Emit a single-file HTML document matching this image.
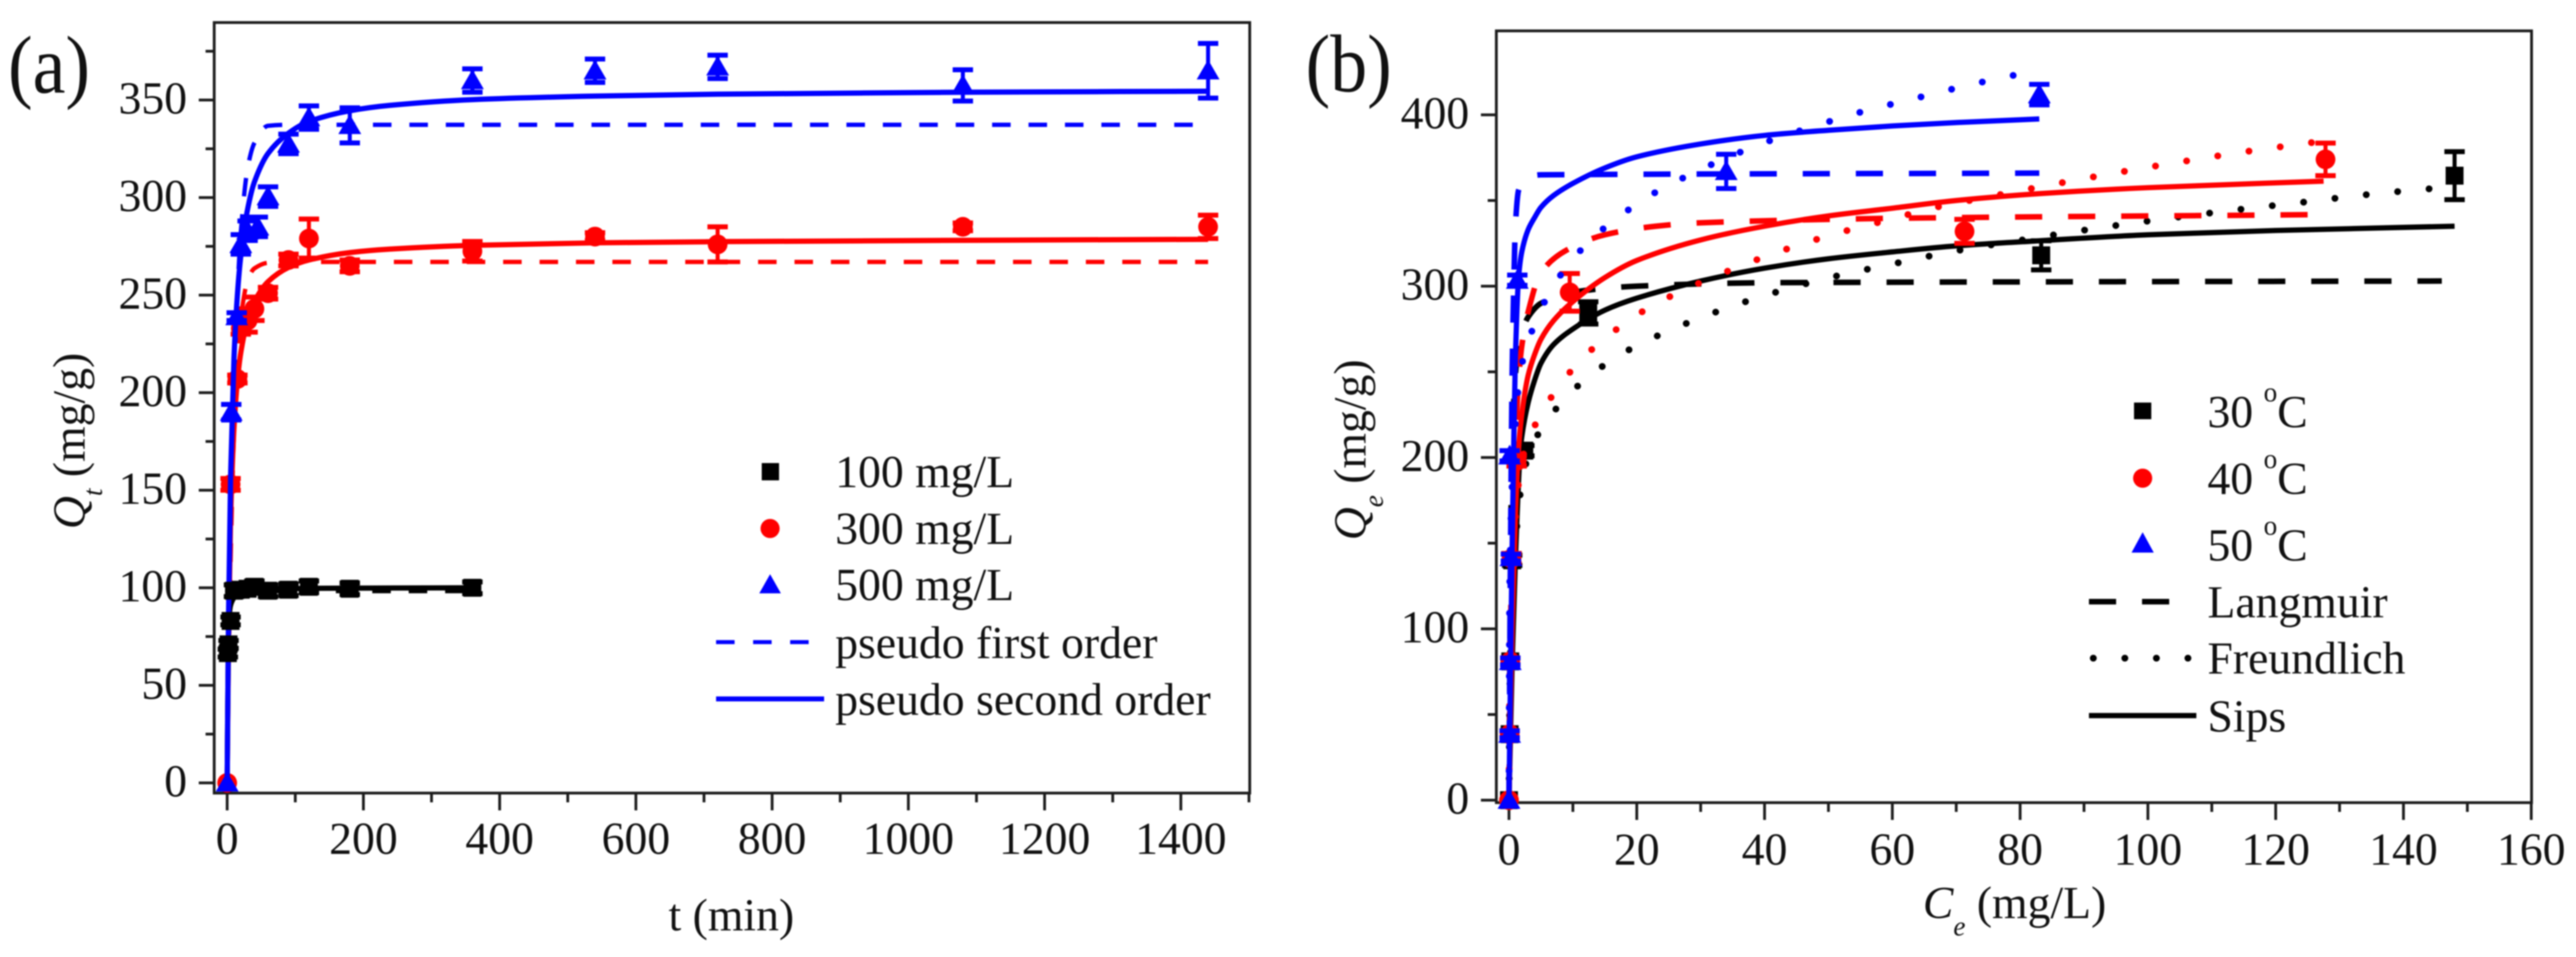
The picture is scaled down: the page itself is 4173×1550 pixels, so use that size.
<!DOCTYPE html>
<html lang="en">
<head>
<meta charset="utf-8">
<title>Adsorption kinetics and isotherms</title>
<style>
html,body{margin:0;padding:0;background:#fff;width:4173px;height:1550px;overflow:hidden}
svg{display:block;filter:blur(1px)}
text{font-family:"Liberation Serif",serif;font-size:74px;fill:#111}
.i{font-style:italic}
</style>
</head>
<body>
<svg id="figure" xmlns="http://www.w3.org/2000/svg" width="4173" height="1550" viewBox="0 0 4173 1550">
  <rect x="0" y="0" width="4173" height="1550" fill="#fff"/>
  <g id="panelA"></g>
  <g id="panelB"></g>

  <text transform="translate(13,150) scale(0.9,1)" style="font-size:133px">(a)</text>
  <text transform="translate(2115,148) scale(0.9,1)" style="font-size:133px">(b)</text>

  <text transform="translate(137,857) rotate(-90)"><tspan class="i">Q</tspan><tspan class="i" style="font-size:44px" dy="28">t</tspan><tspan dy="-28"> (mg/g)</tspan></text>
  <text x="1083" y="1507">t (min)</text>

  <text transform="translate(2212,875) rotate(-90)"><tspan class="i">Q</tspan><tspan class="i" style="font-size:44px" dy="28">e</tspan><tspan dy="-28"> (mg/g)</tspan></text>
  <text x="3115" y="1487"><tspan class="i">C</tspan><tspan class="i" style="font-size:44px" dy="28">e</tspan><tspan dy="-28"> (mg/L)</tspan></text>

  <g>
    <rect x="1234" y="750" width="28" height="28" fill="#000"/>
    <text x="1353" y="789">100 mg/L</text>
    <circle cx="1247.5" cy="856" r="15.5" fill="#f00"/>
    <text x="1353" y="881">300 mg/L</text>
    <polygon points="1247.5,930 1265,961 1230,961" fill="#00f"/>
    <text x="1353" y="972">500 mg/L</text>
    <line x1="1160" y1="1040" x2="1335" y2="1040" stroke="#00f" stroke-width="6.5" stroke-dasharray="30 30"/>
    <text x="1353" y="1066">pseudo first order</text>
    <line x1="1160" y1="1132" x2="1335" y2="1132" stroke="#00f" stroke-width="8"/>
    <text x="1353" y="1158">pseudo second order</text>
  </g>

  <g>
    <rect x="3457" y="652" width="28" height="27" fill="#000"/>
    <text x="3576" y="692">30<tspan dx="17" dy="-42" style="font-size:44px">o</tspan><tspan dy="42">C</tspan></text>
    <circle cx="3471" cy="774.5" r="15.5" fill="#f00"/>
    <text x="3576" y="800">40<tspan dx="17" dy="-42" style="font-size:44px">o</tspan><tspan dy="42">C</tspan></text>
    <polygon points="3471,862 3489,895 3453,895" fill="#00f"/>
    <text x="3576" y="908">50<tspan dx="17" dy="-42" style="font-size:44px">o</tspan><tspan dy="42">C</tspan></text>
    <line x1="3384" y1="974.5" x2="3515" y2="974.5" stroke="#000" stroke-width="9" stroke-dasharray="44 42"/>
    <text x="3576" y="1000">Langmuir</text>
    <line x1="3391" y1="1066" x2="3550" y2="1066" stroke="#000" stroke-width="11" stroke-linecap="round" stroke-dasharray="0.1 51"/>
    <text x="3576" y="1091">Freundlich</text>
    <line x1="3384" y1="1159" x2="3558" y2="1159" stroke="#000" stroke-width="8.5"/>
    <text x="3576" y="1185">Sips</text>
  </g>
</svg>

<script>
// ---------- Panel (a) tick values ----------
var aXMajor = [0, 200, 400, 600, 800, 1000, 1200, 1400];
var aXMinor = [100, 300, 500, 700, 900, 1100, 1300, 1500];
var aYMajor = [0, 50, 100, 150, 200, 250, 300, 350];
var aYMinor = [25, 75, 125, 175, 225, 275, 325, 375];

// ---------- Panel (a) measured points ----------
var aBlackT = [1, 2, 5, 10, 20, 30, 40, 60, 90, 120, 180, 360];
var aBlackQ = [66.5, 71, 83, 98.5, 99, 99.5, 100.5, 98.5, 99, 100.5, 99.5, 100];
var aBlackErr = [2, 2, 2, 3, 2, 2, 3, 3, 3, 3, 3, 3];
var aRedT = [0, 5, 15, 20, 30, 40, 60, 90, 120, 180, 360, 540, 720, 1080, 1440];
var aRedQ = [0, 153, 207, 233, 237, 243, 251, 268, 279, 265, 272.5, 280, 276, 285, 285];
var aRedErr = [0, 3, 2, 3, 6, 6, 3, 3, 10, 3, 5, 2, 9, 2, 6];
var aBlueT = [0, 6, 14, 20, 30, 45, 60, 90, 120, 180, 360, 540, 720, 1080, 1440];
var aBlueQ = [0, 190, 239, 276, 283, 285, 300.5, 327.5, 341, 337, 360, 365, 367, 357.5, 365];
var aBlueErr = [0, 4, 2, 5, 5, 5, 5, 5, 6, 9, 6, 6, 6, 8, 14];

// ---------- Panel (a) fitted curves ----------
var fitT = [0, 2, 5, 10, 15, 20, 30, 40, 60, 90, 120, 180, 240, 360, 540, 720, 1080, 1440];
var blueSecondQ = [0, 85, 156.6, 217.7, 250, 270, 294, 308, 322.6, 333, 339, 344.5, 347.3, 350.2, 352, 353, 354, 354.5];
var blueFirstQ = [0, 56, 122, 201, 250, 282, 315, 328, 336.8, 337.3, 337.3, 337.3, 337.3, 337.3, 337.3, 337.3, 337.3, 337.3];
var redSecondQ = [0, 75.7, 134.6, 181.8, 205.9, 220.5, 237.3, 246.7, 256.9, 264.2, 268, 271.8, 273.6, 275.5, 276.8, 277.4, 278.1, 278.6];
var redFirstQ = [0, 53, 113, 179, 216, 238, 257.5, 263.7, 266.6, 267, 267, 267, 267, 267, 267, 267, 267, 267];
var blackFitT = [0, 2, 5, 10, 15, 20, 30, 60, 120, 180, 360];
var blackSecondQ = [0, 80, 91, 95, 97, 98, 98.8, 99.4, 99.7, 99.8, 100];
var blackFirstQ = [0, 75, 90, 95, 97, 98, 98.3, 98.3, 98.3, 98.3, 98.3];

// ---------- Panel (b) tick values ----------
var bXMajor = [0, 20, 40, 60, 80, 100, 120, 140, 160];
var bXMinor = [10, 30, 50, 70, 90, 110, 130, 150];
var bYMajor = [0, 100, 200, 300, 400];
var bYMinor = [50, 150, 250, 350];

// ---------- Panel (b) measured points ----------
var bBlackC = [0, 0.1, 0.2, 0.5, 2.4, 12.4, 83.3, 148];
var bBlackQ = [0, 38.5, 81, 140, 204, 284.4, 318, 364.5];
var bBlackErr = [0, 2, 2, 3, 3, 6.5, 8.5, 14];
var bRedC = [0, 0.1, 0.2, 0.4, 1.2, 9.5, 71.3, 127.8];
var bRedQ = [0, 38.5, 81, 141, 198, 296.4, 332, 374];
var bRedErr = [0, 2, 2, 3, 3, 11, 7, 9.5];
var bBlueC = [0, 0.1, 0.2, 0.3, 0.1, 1.3, 34, 83];
var bBlueQ = [0, 38.5, 81, 141.6, 201, 303.5, 367, 411.8];
var bBlueErr = [0, 2, 2, 2, 3, 3, 10, 6];

// ---------- Panel (b) Sips curves ----------
var sipsBlueC = [0, 0.25, 0.5, 0.75, 1, 1.5, 2, 3, 4, 5, 7, 10, 15, 20, 30, 40, 50, 60, 70, 83];
var sipsBlueQ = [0, 80, 150, 210, 258, 305, 320, 333, 340, 346, 353, 360, 369, 375.5, 383, 388, 391, 393.5, 395.5, 397.6];
var sipsRedC = [0, 0.25, 0.5, 1, 1.5, 2, 3, 4, 5, 7, 10, 15, 20, 30, 40, 50, 60, 70, 83, 100, 127.5];
var sipsRedQ = [0, 55, 100, 165, 205, 225, 248, 260, 269, 280, 291, 305, 315, 327, 335, 341, 345.5, 350, 354, 357.5, 361.3];
var sipsBlackC = [0, 0.25, 0.5, 1, 1.7, 2, 3, 4, 5, 7, 10, 15, 20, 30, 40, 50, 60, 70, 83, 100, 120, 148];
var sipsBlackQ = [0, 40, 80, 140, 200, 212, 232, 245, 255, 266, 275, 286, 293, 303, 310.5, 316, 320, 323.5, 326.5, 330, 332.5, 335];

// ---------- Panel (b) Langmuir curves ----------
var langBlueC = [0, 0.1, 0.25, 0.5, 0.75, 1, 1.5, 2.5, 5, 83];
var langBlueQ = [0, 60, 150, 250, 300, 335, 356, 363, 365, 366];
var langRedC = [0, 0.25, 0.5, 1, 1.5, 2, 3, 5, 9, 15, 23, 30, 60, 125];
var langRedQ = [0, 100, 155, 210, 245, 265, 285, 308, 321, 330, 335, 337, 339.6, 341.7];
var langBlackC = [0, 0.25, 0.5, 1, 1.5, 2, 3, 5, 10, 20, 40, 80, 146];
var langBlackQ = [0, 142, 210, 248, 264, 273, 282, 290, 296.5, 300, 302, 302.5, 303];

// ---------- Panel (b) Freundlich curves ----------
var freuBlueC = [0, 0.1, 0.25, 0.5, 1, 1.5, 2.3, 4.1, 6.4, 9.8, 14.6, 19.5, 24.3, 39.3, 49.2, 54, 59, 64, 68.9, 73.9, 78.9, 83];
var freuBlueQ = [0, 120, 155, 185, 220, 242, 259, 278.6, 296.6, 315, 333, 346.6, 357.6, 382.8, 395, 400.5, 405.4, 410, 414.6, 419, 423, 426];
var freuRedC = [0, 0.1, 0.25, 0.5, 1, 1.5, 2.5, 4.6, 7.7, 11.8, 16.9, 21.7, 26.9, 31.8, 36.8, 41.7, 46.6, 51.5, 61.2, 66.3, 76.3, 86, 96, 105.9, 115.8, 120.7, 128];
var freuRedQ = [0, 60, 100, 130, 165, 185, 205, 222.5, 241, 259, 275, 287, 297, 305, 312.6, 319.4, 325.5, 331, 340.5, 345.6, 353, 360, 366.8, 373, 378.8, 381.3, 385];
var freuBlackC = [0, 0.1, 0.25, 0.5, 1, 2, 3.3, 6.2, 10.6, 15.4, 20.4, 30.3, 40.2, 50.1, 60.1, 69.8, 79.9, 89.7, 99.6, 114.4, 124.3, 134.2, 144, 148];
var freuBlackQ = [0, 50, 90, 120, 150, 185, 204, 222.8, 241.2, 255.2, 266, 282, 294.7, 304.9, 313, 320.5, 326.7, 332.5, 337.8, 344.8, 349, 353.4, 356.8, 358];

// ---------- Axis functions ----------
function ax(t) { return 368 + 1.1035 * t; }
function ay(q) { return 1268 - 3.16 * q; }
function bx(c) { return 2444.5 + 10.35 * c; }
function by(q) { return 1296 - 2.775 * q; }

var NS = 'http://www.w3.org/2000/svg';
function mk(parent, tag, attrs, name) {
  var el = document.createElementNS(NS, tag);
  for (var k in attrs) el.setAttribute(k, attrs[k]);
  
  
  parent.appendChild(el);
  return el;
}

function curvePath(xs, ys, fx, fy) {
  var px = xs.map(fx), py = ys.map(fy), n = px.length, m = [], t = [], i;
  for (i = 0; i < n - 1; i++) m.push((py[i + 1] - py[i]) / (px[i + 1] - px[i]));
  t[0] = m[0];
  t[n - 1] = m[n - 2];
  for (i = 1; i < n - 1; i++) t[i] = m[i - 1] * m[i] <= 0 ? 0 : 2 * m[i - 1] * m[i] / (m[i - 1] + m[i]);
  var d = 'M' + px[0] + ' ' + py[0];
  for (i = 0; i < n - 1; i++) {
    var h = (px[i + 1] - px[i]) / 3;
    d += 'C' + (px[i] + h) + ' ' + (py[i] + t[i] * h) + ' ' + (px[i + 1] - h) + ' ' + (py[i + 1] - t[i + 1] * h) + ' ' + px[i + 1] + ' ' + py[i + 1];
  }
  return d;
}

function curve(g, xs, ys, fx, fy, color, width, dash, name, cap, anchor) {
  var attrs = { d: curvePath(xs, ys, fx, fy), fill: 'none', stroke: color, 'stroke-width': width };
  if (dash) attrs['stroke-dasharray'] = dash;
  if (cap) attrs['stroke-linecap'] = cap;
  var p = mk(g, 'path', attrs, name);
  if (dash && anchor !== undefined) {
    // shift the dash pattern so one dash begins where the curve reaches the anchor value
    var parts = dash.split(' ').map(Number), period = parts[0] + parts[1];
    var lo = 0, hi = p.getTotalLength(), target = fx(anchor);
    for (var i = 0; i < 40; i++) {
      var mid = (lo + hi) / 2;
      if (p.getPointAtLength(mid).x < target) lo = mid; else hi = mid;
    }
    p.setAttribute('stroke-dashoffset', period - (lo % period));
  }
}

function marker(g, kind, x, y, color, name) {
  if (kind === 'square') {
    mk(g, 'rect', { x: x - 14.5, y: y - 14.5, width: 29, height: 29, fill: color }, name);
  } else if (kind === 'circle') {
    mk(g, 'circle', { cx: x, cy: y, r: 16, fill: color }, name);
  } else {
    mk(g, 'polygon', { points: x + ',' + (y - 18) + ' ' + (x + 18.5) + ',' + (y + 14) + ' ' + (x - 18.5) + ',' + (y + 14), fill: color }, name);
  }
}

function points(g, xs, ys, es, fx, fy, kind, color, name) {
  for (var i = 0; i < xs.length; i++) {
    var x = fx(xs[i]), y = fy(ys[i]), top = fy(ys[i] + es[i]), bot = fy(ys[i] - es[i]);
    if (es[i] > 0) {
      mk(g, 'line', { x1: x, y1: top, x2: x, y2: bot, stroke: color, 'stroke-width': 6.5 }, name + '-error-bar');
      mk(g, 'line', { x1: x - 16.5, y1: top, x2: x + 16.5, y2: top, stroke: color, 'stroke-width': 8 }, name + '-error-cap');
      mk(g, 'line', { x1: x - 16.5, y1: bot, x2: x + 16.5, y2: bot, stroke: color, 'stroke-width': 8 }, name + '-error-cap');
    }
    marker(g, kind, x, y, color, name + '-point');
  }
}

function axes(g, L, T, R, B, xMaj, xMin, yMaj, yMin, fx, fy, yEnd, xBase, prefix) {
  var ink = '#1c1c1c';
  mk(g, 'rect', { x: L, y: T, width: R - L, height: B - T, fill: 'none', stroke: ink, 'stroke-width': 4.5 }, prefix + '-plot-frame');
  xMaj.forEach(function (v) {
    mk(g, 'line', { x1: fx(v), y1: B, x2: fx(v), y2: B + 28, stroke: ink, 'stroke-width': 4.5 }, prefix + '-x-tick');
    var t = mk(g, 'text', { x: fx(v), y: xBase, 'text-anchor': 'middle' }, prefix + '-x-tick-label');
    t.textContent = String(v);
  });
  xMin.forEach(function (v) {
    mk(g, 'line', { x1: fx(v), y1: B, x2: fx(v), y2: B + 15, stroke: ink, 'stroke-width': 4.5 }, prefix + '-x-minor-tick');
  });
  yMaj.forEach(function (v) {
    mk(g, 'line', { x1: L, y1: fy(v), x2: L - 25, y2: fy(v), stroke: ink, 'stroke-width': 4.5 }, prefix + '-y-tick');
    var t = mk(g, 'text', { x: yEnd, y: fy(v) + 22, 'text-anchor': 'end' }, prefix + '-y-tick-label');
    t.textContent = String(v);
  });
  yMin.forEach(function (v) {
    mk(g, 'line', { x1: L, y1: fy(v), x2: L - 14, y2: fy(v), stroke: ink, 'stroke-width': 4.5 }, prefix + '-y-minor-tick');
  });
}

// ---------- Draw panel (a) ----------
var A = document.getElementById('panelA');
axes(A, 347, 36.5, 2024.5, 1284.5, aXMajor, aXMinor, aYMajor, aYMinor, ax, ay, 303, 1383, 'panel-a');
curve(A, fitT, redFirstQ, ax, ay, '#f00', 7, '30 29', 'fit-300-first-order', null, 244.7);
curve(A, fitT, blueFirstQ, ax, ay, '#00f', 7, '30 29', 'fit-500-first-order', null, 214);
curve(A, fitT, redSecondQ, ax, ay, '#f00', 8.5, null, 'fit-300-second-order');
points(A, aRedT, aRedQ, aRedErr, ax, ay, 'circle', '#f00', 'series-300');
curve(A, blackFitT, blackFirstQ, ax, ay, '#000', 7, '30 29', 'fit-100-first-order', null, 213);
curve(A, blackFitT, blackSecondQ, ax, ay, '#000', 8.5, null, 'fit-100-second-order');
curve(A, fitT, blueSecondQ, ax, ay, '#00f', 8.5, null, 'fit-500-second-order');
points(A, aBlackT, aBlackQ, aBlackErr, ax, ay, 'square', '#000', 'series-100');
points(A, aBlueT, aBlueQ, aBlueErr, ax, ay, 'triangle', '#00f', 'series-500');

// ---------- Draw panel (b) ----------
var B = document.getElementById('panelB');
axes(B, 2424, 50, 4101, 1300, bXMajor, bXMinor, bYMajor, bYMinor, bx, by, 2380, 1400.5, 'panel-b');
curve(B, langBlackC, langBlackQ, bx, by, '#000', 9, '44 42', 'langmuir-30c', null, 67.4);
curve(B, freuBlackC, freuBlackQ, bx, by, '#000', 11, '0.1 51', 'freundlich-30c', 'round', 144);
curve(B, sipsBlackC, sipsBlackQ, bx, by, '#000', 8.5, null, 'sips-30c');
points(B, bBlackC, bBlackQ, bBlackErr, bx, by, 'square', '#000', 'series-30c');
curve(B, langRedC, langRedQ, bx, by, '#f00', 9, '44 42', 'langmuir-40c', null, 79.2);
curve(B, freuRedC, freuRedQ, bx, by, '#f00', 11, '0.1 51', 'freundlich-40c', 'round', 120.7);
curve(B, sipsRedC, sipsRedQ, bx, by, '#f00', 8.5, null, 'sips-40c');
points(B, bRedC, bRedQ, bRedErr, bx, by, 'circle', '#f00', 'series-40c');
curve(B, langBlueC, langBlueQ, bx, by, '#00f', 9, '44 42', 'langmuir-50c', null, 70.9);
curve(B, freuBlueC, freuBlueQ, bx, by, '#00f', 11, '0.1 51', 'freundlich-50c', 'round', 78.9);
curve(B, sipsBlueC, sipsBlueQ, bx, by, '#00f', 8.5, null, 'sips-50c');
points(B, bBlueC, bBlueQ, bBlueErr, bx, by, 'triangle', '#00f', 'series-50c');
</script>
</body>
</html>
